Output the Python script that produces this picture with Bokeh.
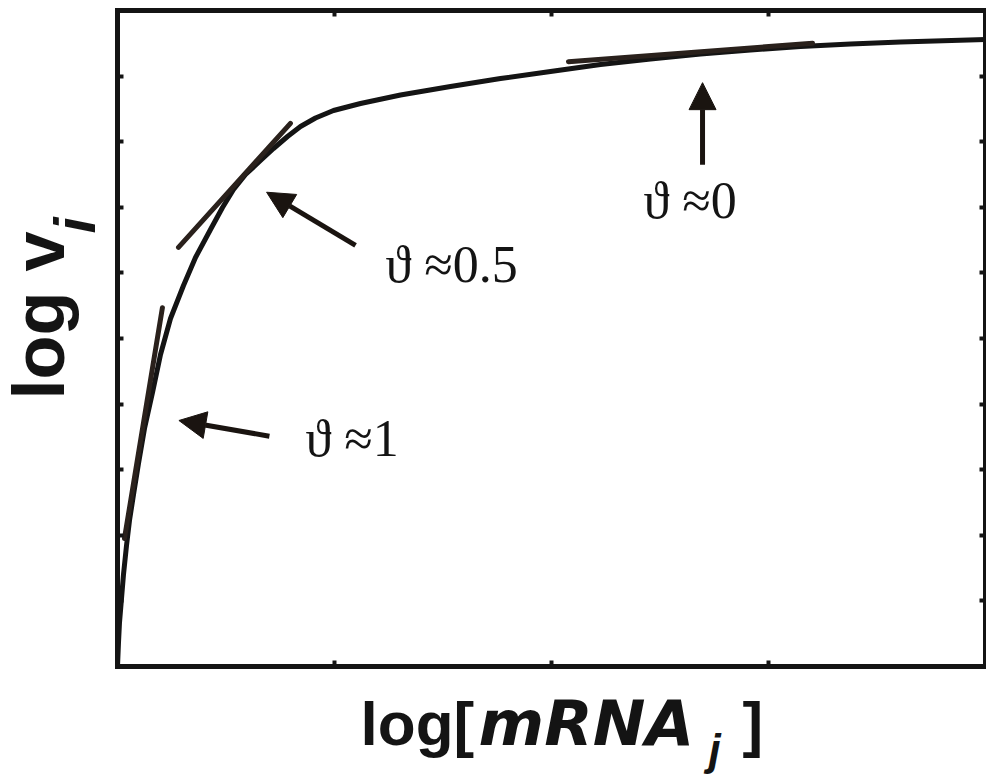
from bokeh.plotting import figure
from bokeh.models import Range1d, LinearAxis, FixedTicker, Label, Arrow, NormalHead
from bokeh.embed import file_html
from bokeh.resources import INLINE

# Response curve: log v_i against log[mRNA_j]
log_mrna = [0, 0.0046, 0.0092, 0.0184, 0.0276, 0.0415, 0.0553, 0.0737, 0.0968,
            0.1244, 0.1613, 0.1982, 0.2442, 0.3041, 0.3594, 0.4286, 0.4839,
            0.5346, 0.5899, 0.6590, 0.7189, 0.7834, 0.8433, 0.9124, 0.9954,
            1.1198, 1.3041, 1.5346, 1.7650, 1.9954, 2.2258, 2.4562, 2.6866,
            2.9171, 3.1475, 3.3779, 3.6083, 4.0]
log_v = [0, 0.366, 0.671, 1.037, 1.402, 1.845, 2.226, 2.622, 3.095,
         3.628, 4.177, 4.756, 5.305, 5.808, 6.235, 6.662, 6.997,
         7.271, 7.500, 7.713, 7.896, 8.079, 8.232, 8.361, 8.476,
         8.582, 8.712, 8.841, 8.963, 9.070, 9.177, 9.261, 9.337,
         9.398, 9.451, 9.489, 9.520, 9.558]

# Tangent segments (local slope theta) at three points of the curve
tan1_x, tan1_y = [0.032, 0.207], [1.95, 5.47]
tan2_x, tan2_y = [0.281, 0.797], [6.39, 8.28]
tan3_x, tan3_y = [2.078, 3.203], [9.22, 9.50]

theta_labels = ["\u03d1 \u22481", "\u03d1 \u22480.5", "\u03d1 \u22480"]

x_ticks = [1, 2, 3]
y_ticks = [1, 2, 3, 4, 5, 6, 7, 8, 9]
X_MIN, X_MAX = 0, 4
Y_MIN, Y_MAX = 0, 10

INK = "#141414"

# the frame spans the canvas; the boxed axes sit at fixed data locations
p = figure(width=986, height=778,
           x_range=Range1d(-0.5392, 4.0046), y_range=Range1d(-1.7073, 10.1524),
           output_backend="svg", toolbar_location=None,
           x_axis_location=None, y_axis_location=None,
           min_border=0)
p.grid.visible = False
p.background_fill_color = "white"
p.border_fill_color = "white"
p.outline_line_color = None

for side, ticks, loc, bounds in [("below", x_ticks, Y_MIN, (X_MIN, X_MAX)),
                                 ("above", x_ticks, Y_MAX, (X_MIN, X_MAX)),
                                 ("left", y_ticks, X_MIN, (Y_MIN, Y_MAX)),
                                 ("right", y_ticks, X_MAX, (Y_MIN, Y_MAX))]:
    ax = LinearAxis(ticker=FixedTicker(ticks=ticks, minor_ticks=[]),
                    fixed_location=loc, bounds=bounds,
                    axis_line_color=INK, axis_line_width=5, axis_line_cap="square",
                    major_tick_in=6, major_tick_out=0,
                    major_tick_line_width=4, major_tick_line_color=INK,
                    minor_tick_line_color=None,
                    major_label_overrides={t: "" for t in ticks},
                    major_label_text_font_size="1px",
                    major_label_standoff=0)
    p.add_layout(ax, side)

# main curve
p.line(log_mrna, log_v, line_color=INK, line_width=5, line_join="round")

# tangent segments
for tx, ty in [(tan1_x, tan1_y), (tan2_x, tan2_y), (tan3_x, tan3_y)]:
    p.line(tx, ty, line_color="#2a211c", line_width=5, line_cap="round")

# arrows pointing at the tangent points
for (xs, ys, xe, ye) in [(0.700, 3.51, 0.283, 3.75),
                         (1.097, 6.42, 0.687, 7.23),
                         (2.696, 7.65, 2.696, 8.90)]:
    p.add_layout(Arrow(end=NormalHead(size=27, fill_color="#1a1410",
                                      line_color="#1a1410", line_width=1),
                       x_start=xs, y_start=ys, x_end=xe, y_end=ye,
                       line_color="#1a1410", line_width=5))

# slope annotations
for txt, lx, ly in zip(theta_labels, [0.866, 1.235, 2.424], [3.476, 6.128, 7.104]):
    p.add_layout(Label(x=lx, y=ly, text=txt, text_font="Liberation Serif",
                       text_font_size="52px", text_color=INK,
                       text_align="left", text_baseline="alphabetic"))

# axis titles built from pieces (bold, italic, subscript)
SANS = "Liberation Sans"
p.add_layout(Label(x=1.120, y=-0.87, text="log[", text_font=SANS,
                   text_font_size="62px", text_font_style="bold",
                   text_color=INK, text_baseline="alphabetic"))
p.add_layout(Label(x=1.664, y=-0.87, text="mRNA", text_font="DejaVu Sans",
                   text_font_size="63px", text_font_style="bold italic",
                   text_color=INK, text_baseline="alphabetic"))
p.add_layout(Label(x=2.724, y=-1.27, text="j", text_font=SANS,
                   text_font_size="44px", text_font_style="bold italic",
                   text_color=INK, text_baseline="alphabetic"))
p.add_layout(Label(x=2.880, y=-0.87, text="]", text_font=SANS,
                   text_font_size="62px", text_font_style="bold",
                   text_color=INK, text_baseline="alphabetic"))

p.add_layout(Label(x=-0.364, y=4.07, text="log v", angle=1.5708, text_font=SANS,
                   text_font_size="72px", text_font_style="bold",
                   text_color=INK, text_baseline="alphabetic"))
p.add_layout(Label(x=-0.198, y=6.60, text="i", angle=1.5708, text_font=SANS,
                   text_font_size="58px", text_font_style="bold italic",
                   text_color=INK, text_baseline="alphabetic"))

open("out.html", "w").write(file_html(p, INLINE))
